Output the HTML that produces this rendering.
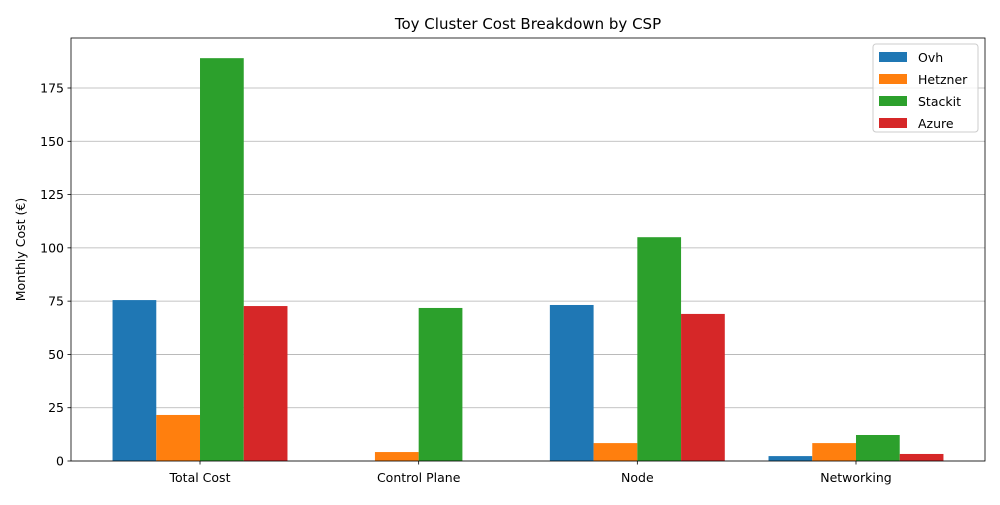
<!DOCTYPE html>
<html><head><meta charset="utf-8"><style>
body{margin:0;background:#fff;font-family:"Liberation Sans","DejaVu Sans",sans-serif}
</style></head><body>
<svg id="chart" width="1000" height="500" xmlns="http://www.w3.org/2000/svg" font-family="DejaVu Sans, Liberation Sans, sans-serif"></svg>
<script>
const categories=["Total Cost","Control Plane","Node","Networking"];
const seriesNames=["Ovh","Hetzner","Stackit","Azure"];
const ovh=[75.5,0,73.2,2.3];
const hetzner=[21.6,4.2,8.4,8.4];
const stackit=[189,71.8,105,12.2];
const azure=[72.7,0,69,3.3];
const yTicks=[0,25,50,75,100,125,150,175];
const colors=["#1f77b4","#ff7f0e","#2ca02c","#d62728"];
const series=[ovh,hetzner,stackit,azure];
const L=71,R=985,T=38,B=461;
const svg=document.getElementById('chart');
const NS="http://www.w3.org/2000/svg";
function mk(tag,attrs,parent){const e=document.createElementNS(NS,tag);for(const k in attrs)e.setAttribute(k,attrs[k]);(parent||svg).appendChild(e);return e;}
const step=(R-L)/(categories.length-1+2*0.59);
function xPos(i){return L+(0.59+i)*step;}
function yPos(v){return B-v*(B-88)/175;}
const bw=step*0.2;
// grid
const grid=mk('g',{});


yTicks.forEach(t=>{
 const l=mk('line',{x1:L,x2:R,y1:yPos(t),y2:yPos(t),stroke:'#b0b0b0','stroke-width':0.8},grid);
 
 
});
// bars
series.forEach((s,si)=>{
 s.forEach((v,ci)=>{
  const x=xPos(ci)-2*bw+si*bw;
  const r=mk('rect',{x:x,y:yPos(v),width:bw,height:B-yPos(v),fill:colors[si]});
  
  
 });
});
// axes frame
const fr=mk('rect',{x:L,y:T,width:R-L,height:B-T,fill:'none',stroke:'#000','stroke-width':0.8});


yTicks.forEach(t=>{
 mk('line',{x1:L-3.5,x2:L,y1:yPos(t),y2:yPos(t),stroke:'#000','stroke-width':0.8});
 const tx=mk('text',{x:L-7,y:yPos(t)+4.5,'text-anchor':'end','font-size':12.5});
 tx.textContent=t;
 
 
});
categories.forEach((c,i)=>{
 mk('line',{x1:xPos(i),x2:xPos(i),y1:B,y2:B+3.5,stroke:'#000','stroke-width':0.8});
 const tx=mk('text',{x:xPos(i),y:B+21,'text-anchor':'middle','font-size':12.5});
 tx.textContent=c;
 
 
});
const title=mk('text',{x:(L+R)/2,y:29,'text-anchor':'middle','font-size':15});
title.textContent="Toy Cluster Cost Breakdown by CSP";


const yt=mk('text',{x:25,y:(T+B)/2,'text-anchor':'middle','font-size':12.5,transform:'rotate(-90 25 '+(T+B)/2+')'});
yt.textContent="Monthly Cost (€)";


// legend
const lg=mk('g',{});


mk('rect',{x:873,y:44,width:105,height:88,rx:3,fill:'#fff','fill-opacity':0.8,stroke:'#ccc'},lg);
seriesNames.forEach((n,i)=>{
 const y=52+i*22;
 const sw=mk('rect',{x:879,y:y,width:28,height:10,fill:colors[i]},lg);
 
 
 const tx=mk('text',{x:918,y:y+10,'font-size':12.5},lg);
 tx.textContent=n;
 
 
});
</script>
</body></html>
